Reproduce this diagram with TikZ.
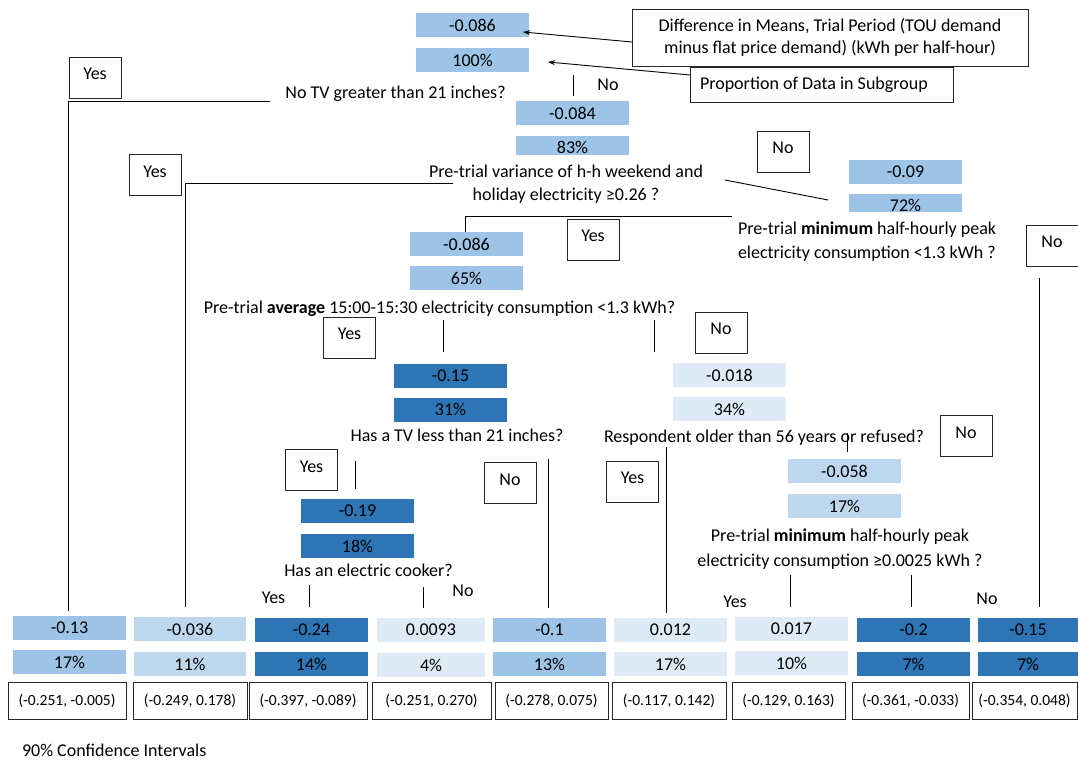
\documentclass[tikz,border=0pt]{standalone}
\usepackage{fontspec}
\setmainfont{Carlito}
\usetikzlibrary{arrows.meta}
\definecolor{cmid}{HTML}{9DC3E6}
\definecolor{clight}{HTML}{BDD7EE}
\definecolor{clightest}{HTML}{DEEBF7}
\definecolor{cdark}{HTML}{2E75B6}
\begin{document}
\begin{tikzpicture}[x=1pt,y=-1pt,
  every node/.style={inner sep=0pt, outer sep=0pt},
  font=\fontsize{18}{21.6}\selectfont,
  vb/.style={minimum width=113pt, minimum height=24pt},
  yn/.style={draw=black!85, line width=0.9pt, fill=white, minimum width=52pt, minimum height=41pt, text height=12pt, text depth=8pt},
  ci/.style={draw=black!85, line width=0.9pt, fill=white, minimum height=37pt, font=\fontsize{15.5}{18}\selectfont},
  conn/.style={line width=0.9pt, black},
  note/.style={draw=black!85, line width=0.9pt, fill=white},
  arr/.style={conn, -{Stealth[length=7pt,width=5pt]}}]
\useasboundingbox (0,0) rectangle (1078,760);
\fill[white] (0,0) rectangle (1078,760);

% ---------- inner nodes ----------
\node[vb,fill=cmid] (r-v) at (472.5,25) {-0.086};
\node[vb,fill=cmid] (r-p) at (472.5,60) {100\%};
\node[vb,fill=cmid] (n2-v) at (572.5,113) {-0.084};
\node[vb,fill=cmid,minimum height=19pt,text height=16pt,text depth=0pt] (n2-p) at (572.5,145.5) {83\%};
\node[vb,fill=cmid] (n3-v) at (905.5,172) {-0.09};
\node[vb,fill=cmid,minimum height=18pt,text height=17pt,text depth=0pt] (n3-p) at (905.5,203) {72\%};
\node[vb,fill=cmid] (n4-v) at (466.5,244) {-0.086};
\node[vb,fill=cmid] (n4-p) at (466.5,278) {65\%};
\node[vb,fill=cdark] (n5-v) at (450.5,376) {-0.15};
\node[vb,fill=cdark] (n5-p) at (450.5,409.5) {31\%};
\node[vb,fill=clightest] (n6-v) at (729.5,375) {-0.018};
\node[vb,fill=clightest] (n6-p) at (729.5,409) {34\%};
\node[vb,fill=cdark] (n7-v) at (357.5,511) {-0.19};
\node[vb,fill=cdark] (n7-p) at (357.5,546) {18\%};
\node[vb,fill=clight] (n8-v) at (844.5,471) {-0.058};
\node[vb,fill=clight] (n8-p) at (844.5,506) {17\%};

% ---------- leaves ----------
\node[vb,fill=cmid] (l1-v) at (69.5,628) {-0.13};
\node[vb,fill=cmid] (l1-p) at (69.5,662) {17\%};
\node[vb,fill=clight,minimum width=112pt] (l2-v) at (190,629) {-0.036};
\node[vb,fill=clight,minimum width=112pt] (l2-p) at (190,664) {11\%};
\node[vb,fill=cdark] (l3-v) at (311.5,630) {-0.24};
\node[vb,fill=cdark] (l3-p) at (311.5,664) {14\%};
\node[vb,fill=clightest,minimum width=108pt] (l4-v) at (431,630) {0.0093};
\node[vb,fill=clightest,minimum width=108pt] (l4-p) at (431,665) {4\%};
\node[vb,fill=cmid] (l5-v) at (549.5,630) {-0.1};
\node[vb,fill=cmid] (l5-p) at (549.5,664) {13\%};
\node[vb,fill=clightest] (l6-v) at (670.5,630) {0.012};
\node[vb,fill=clightest] (l6-p) at (670.5,664) {17\%};
\node[vb,fill=clightest] (l7-v) at (791.5,629) {0.017};
\node[vb,fill=clightest] (l7-p) at (791.5,663) {10\%};
\node[vb,fill=cdark] (l8-v) at (913.5,630) {-0.2};
\node[vb,fill=cdark] (l8-p) at (913.5,664) {7\%};
\node[vb,fill=cdark,minimum width=100pt] (l9-v) at (1028,630) {-0.15};
\node[vb,fill=cdark,minimum width=100pt] (l9-p) at (1028,664) {7\%};

% ---------- confidence intervals ----------
\node[ci,minimum width=118pt] (ci1) at (67,700.5) {(-0.251, -0.005)};
\node[ci,minimum width=114pt] (ci2) at (190,700.5) {(-0.249, 0.178)};
\node[ci,minimum width=118pt] (ci3) at (308,700.5) {(-0.397, -0.089)};
\node[ci,minimum width=119pt] (ci4) at (431.5,700.5) {(-0.251, 0.270)};
\node[ci,minimum width=113pt] (ci5) at (551.5,700.5) {(-0.278, 0.075)};
\node[ci,minimum width=114pt] (ci6) at (669,700.5) {(-0.117, 0.142)};
\node[ci,minimum width=113pt] (ci7) at (788.5,700.5) {(-0.129, 0.163)};
\node[ci,minimum width=117pt] (ci8) at (910.5,700.5) {(-0.361, -0.033)};
\node[ci,minimum width=105pt] (ci9) at (1024.5,700.5) {(-0.354, 0.048)};
\node[anchor=base west] (cilab) at (22,756) {90\% Confidence Intervals};

% ---------- questions ----------
\node[anchor=base] (q1) at (395.5,98) {No TV greater than 21 inches?};
\node[align=center,font=\fontsize{18}{22.7}\selectfont] (q2) at (566,184) {Pre-trial variance of h-h weekend and\\holiday electricity ≥0.26 ?};
\node[align=left,font=\fontsize{18}{24}\selectfont,anchor=west] (q3) at (738,242) {Pre-trial \textbf{minimum} half-hourly peak\\electricity consumption <1.3 kWh ?};
\node[anchor=base] (q4) at (439.5,313) {Pre-trial \textbf{average} 15:00-15:30 electricity consumption <1.3 kWh?};
\node[anchor=base] (q5) at (457,441) {Has a TV less than 21 inches?};
\node[anchor=base] (q6) at (764,442) {Respondent older than 56 years or refused?};
\node[anchor=base] (q7) at (368.5,576) {Has an electric cooker?};
\node[align=center,font=\fontsize{18}{24.5}\selectfont] (q8) at (840,549) {Pre-trial \textbf{minimum} half-hourly peak\\electricity consumption ≥0.0025 kWh ?};

% ---------- plain yes/no labels ----------
\node[anchor=base] (t1) at (608,90) {No};
\node[anchor=base] (t2) at (273.5,603) {Yes};
\node[anchor=base] (t3) at (463,596) {No};
\node[anchor=base] (t4) at (735,607) {Yes};
\node[anchor=base] (t5) at (987,604) {No};

% ---------- boxed yes/no labels ----------
\node[yn] (y1) at (95,77.5) {Yes};
\node[yn] (y2) at (155,175) {Yes};
\node[yn] (b1) at (783,151.5) {No};
\node[yn] (y3) at (593,239.5) {Yes};
\node[yn] (b2) at (1052,245.5) {No};
\node[yn] (y4) at (349.5,337.5) {Yes};
\node[yn] (b3) at (721,332.5) {No};
\node[yn] (y5) at (311.5,470) {Yes};
\node[yn] (b4) at (510,483) {No};
\node[yn] (y6) at (632.5,481.5) {Yes};
\node[yn] (b5) at (966,436) {No};

% ---------- legend boxes ----------
\node[note,minimum width=396pt,minimum height=57pt,align=center,font=\fontsize{18}{22.7}\selectfont] (diff) at (830,37.5)
  {Difference in Means, Trial Period (TOU demand\\minus flat price demand) (kWh per half-hour)};
\node[note,minimum height=35pt,text width=243pt,inner xsep=10pt,align=flush left] (prop) at (821.5,84.5) {Proportion of Data in Subgroup};

\coordinate (a1s) at (632,42); \coordinate (a1e) at (523,32);
\coordinate (a2s) at (690,75); \coordinate (a2e) at (548,62);
\draw[arr] (a1s) -- (a1e);
\draw[arr] (a2s) -- (a2e);

% ---------- connectors ----------
\coordinate (k1a) at (270,101); \coordinate (k1b) at (68,611);
\draw[conn] (k1a) -| (k1b);
\coordinate (k2a) at (573,75); \coordinate (k2b) at (573,96);
\draw[conn] (k2a) -- (k2b);
\coordinate (k3a) at (453,183); \coordinate (k3b) at (185,607);
\draw[conn] (k3a) -| (k3b);
\coordinate (k4a) at (725,180); \coordinate (k4b) at (828,200);
\draw[conn] (k4a) -- (k4b);
\coordinate (k5a) at (732,216); \coordinate (k5b) at (465,232);
\draw[conn] (k5a) -| (k5b);
\coordinate (k6a) at (1039,278); \coordinate (k6b) at (1039,607);
\draw[conn] (k6a) -- (k6b);
\coordinate (k7a) at (443,320); \coordinate (k7b) at (443,352);
\draw[conn] (k7a) -- (k7b);
\coordinate (k8a) at (654,320); \coordinate (k8b) at (654,352);
\draw[conn] (k8a) -- (k8b);
\coordinate (k9a) at (355,461); \coordinate (k9b) at (355,489);
\draw[conn] (k9a) -- (k9b);
\coordinate (k10a) at (548,459); \coordinate (k10b) at (548,608);
\draw[conn] (k10a) -- (k10b);
\coordinate (k11a) at (666,447); \coordinate (k11b) at (666,613);
\draw[conn] (k11a) -- (k11b);
\coordinate (k12a) at (847,433); \coordinate (k12b) at (847,452);
\draw[conn] (k12a) -- (k12b);
\coordinate (k13a) at (309,585); \coordinate (k13b) at (309,607);
\draw[conn] (k13a) -- (k13b);
\coordinate (k14a) at (423,587); \coordinate (k14b) at (423,608);
\draw[conn] (k14a) -- (k14b);
\coordinate (k15a) at (790,575); \coordinate (k15b) at (790,607);
\draw[conn] (k15a) -- (k15b);
\coordinate (k16a) at (911,575); \coordinate (k16b) at (911,607);
\draw[conn] (k16a) -- (k16b);
\end{tikzpicture}
\end{document}
